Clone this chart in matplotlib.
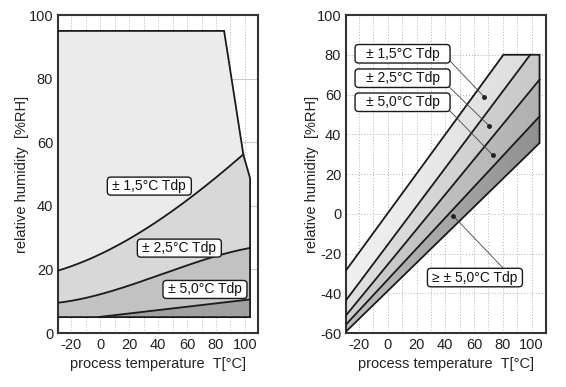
import matplotlib.pyplot as plt
from matplotlib.patches import Polygon, FancyBboxPatch
from matplotlib.transforms import IdentityTransform
import numpy as np

plt.rcParams['font.family'] = ['Liberation Sans', 'DejaVu Sans']
plt.rcParams['axes.unicode_minus'] = False

# --- DATA: left chart (accuracy vs. RH and temperature) ---
outer_t = [-30, 85.6, 98.9, 103.5, 103.5, -30]
outer_rh = [95, 95, 56, 48.7, 5, 5]

c15_t = [-30, -10, 0, 20, 40, 60, 80, 98.9]
c15_rh = [19.3, 23.0, 25.0, 29.3, 35.0, 41.8, 49.3, 56.0]

c25_t = [-30, -8, 15, 38, 61, 84, 103.5]
c25_rh = [9.4, 11.4, 14.1, 17.7, 21.4, 24.8, 26.7]

c50_t = [-1, 38, 72, 103.5]
c50_rh = [5.0, 7.2, 8.8, 10.6]
floor_rh = 5

left_labels = ['± 1,5°C Tdp', '± 2,5°C Tdp', '± 5,0°C Tdp']
left_label_t = [34, 54.7, 72.4]
left_label_rh = [46.2, 26.7, 13.7]

# --- DATA: right chart (band boundaries, start/end points) ---
line1 = [(-30, -29.5), (80.4, 80)]
line2 = [(-30, -44.5), (99, 80)]
line3 = [(-30, -52), (105.5, 67.5)]
line4 = [(-30, -56.5), (105.5, 49)]
bottom = [(-30, -60), (105.5, 35.6)]
top_right = (105.5, 80)

right_labels = ['± 1,5°C Tdp', '± 2,5°C Tdp', '± 5,0°C Tdp', '≥ ± 5,0°C Tdp']
right_label_pos = [(10.3, 80.5), (10.3, 68.2), (10.3, 56.1), (60.6, -32.1)]
right_dot_pos = [(66.9, 58.9), (70.4, 44.3), (72.9, 29.6), (45.4, -1.0)]
right_anchor = [(42.6, 77.4), (42.6, 63.9), (42.6, 52.2), (79.9, -27.1)]

fills = ['#ebebeb', '#d8d8d8', '#c2c2c2', '#a0a0a0']
edge = '#1a1a1a'

fig = plt.figure(figsize=(5.66, 3.87), dpi=100)
ax1 = fig.add_axes([0.1025, 0.1395, 0.3534, 0.8217])
ax2 = fig.add_axes([0.6113, 0.1395, 0.3534, 0.8217])

ax1.set_xlim(-29, 109)
ax1.set_ylim(0, 100)
ax2.set_xlim(-29, 110)
ax2.set_ylim(-60, 100)


def smooth(t, rh, deg=3):
    # smooth curve through the read-off points (drawing only)
    ts = np.linspace(t[0], t[-1], 200)
    return ts, np.polyval(np.polyfit(t, rh, deg), ts)


def label_box(ax, x, y, text, w, h):
    # box drawn in pixel space so it keeps a fixed size and round corners
    cx, cy = ax.transData.transform((x, y))
    p = FancyBboxPatch((cx - w / 2, cy - h / 2), w, h,
                       boxstyle='round,pad=0,rounding_size=3.5',
                       fc='white', ec=edge, lw=1.0, transform=IdentityTransform(),
                       zorder=5, clip_on=False)
    fig.patches.append(p)
    p.set_figure(fig)
    fig.text(cx / fig.bbox.width, cy / fig.bbox.height, text, ha='center', va='center',
             fontsize=10, color='#111111', zorder=6)


# --- left chart ---
s15 = smooth(c15_t, c15_rh)
s25 = smooth(c25_t, c25_rh)
s50 = smooth(c50_t, c50_rh, 2)

ax1.add_patch(Polygon(list(zip(outer_t, outer_rh)), closed=True, fc=fills[0], ec='none', zorder=2))
p15 = list(zip(*s15)) + [(103.5, 48.7), (103.5, floor_rh), (-30, floor_rh)]
ax1.add_patch(Polygon(p15, closed=True, fc=fills[1], ec='none', zorder=2))
p25 = list(zip(*s25)) + [(103.5, floor_rh), (-30, floor_rh)]
ax1.add_patch(Polygon(p25, closed=True, fc=fills[2], ec='none', zorder=2))
p50 = list(zip(*s50)) + [(103.5, floor_rh)]
ax1.add_patch(Polygon(p50, closed=True, fc=fills[3], ec='none', zorder=2))

for s in (s15, s25, s50):
    ax1.plot(s[0], s[1], color=edge, lw=1.3, zorder=3)
ax1.add_patch(Polygon(list(zip(outer_t, outer_rh)), closed=True, fc='none', ec=edge, lw=1.3, zorder=3))

for lab, tx, ty in zip(left_labels, left_label_t, left_label_rh):
    label_box(ax1, tx, ty, lab, 84, 18)

ax1.set_yticks([0, 20, 40, 60, 80, 100])

# --- right chart ---
base = [(bottom[1][0], bottom[1][1]), bottom[0]]
bands = [
    (line1 + [top_right] + base, ('#f0f0f0', '#dcdcdc')),
    (line2 + [top_right] + base, ('#e0e0e0', '#c8c8c8')),
    (line3 + base, ('#cfcfcf', '#b0b0b0')),
    (line4 + base, ('#bdbdbd', '#909090')),
]
grad = np.linspace(0, 1, 256).reshape(1, -1)
for pts, (c0, c1) in bands:
    poly = Polygon(pts, closed=True, fc='none', ec='none', zorder=2)
    ax2.add_patch(poly)
    v0 = int(c0[1:3], 16) / 255
    v1 = int(c1[1:3], 16) / 255
    im = ax2.imshow(v0 + (v1 - v0) * grad, cmap='gray', vmin=0, vmax=1, aspect='auto',
                    extent=[-30, 105.5, -60, 80], zorder=2, interpolation='bilinear')
    im.set_clip_path(poly)

ax2.add_patch(Polygon(line1 + [top_right] + base, closed=True, fc='none', ec=edge, lw=1.3, zorder=3))
for ln in [line2, line3, line4]:
    ax2.plot([ln[0][0], ln[1][0]], [ln[0][1], ln[1][1]], color=edge, lw=1.3, zorder=3)

for ap, dp in zip(right_anchor, right_dot_pos):
    ax2.plot([ap[0], dp[0]], [ap[1], dp[1]], color='#444444', lw=0.6, zorder=4)
    ax2.plot(dp[0], dp[1], 'o', color='#222222', ms=2.5, zorder=4)
for lab, lp in zip(right_labels, right_label_pos):
    label_box(ax2, lp[0], lp[1], lab, 95, 18.5)

ax2.set_xlim(-29, 110)
ax2.set_ylim(-60, 100)
ax2.set_yticks(np.arange(-60, 101, 20))

for ax in (ax1, ax2):
    ax.set_xticks([-20, 0, 20, 40, 60, 80, 100])
    ax.set_xticks(np.arange(-20, 101, 10), minor=True)
    ax.grid(which='both', axis='x', color='#b0b0b0', ls=(0, (1, 2)), lw=0.7, zorder=1)
    ax.set_axisbelow(True)
    ax.tick_params(which='both', length=0, pad=3.5, labelsize=10.5, colors='#222222')
    for sp in ax.spines.values():
        sp.set_color('#333333')
        sp.set_linewidth(1.5)
    ax.set_xlabel('process temperature  T[°C]', fontsize=10.5, color='#222222', labelpad=4)

ax1.set_ylabel('relative humidity  [%RH]', fontsize=10.5, color='#222222', labelpad=-0.5)
ax2.set_ylabel('relative humidity  [%RH]', fontsize=10.5, color='#222222', labelpad=-1.5)

ax1.grid(which='major', axis='y', color='#cccccc', ls='-', lw=0.8, zorder=1)
ax2.grid(which='major', axis='y', color='#b0b0b0', ls=(0, (1, 2)), lw=0.7, zorder=1)

fig.savefig('out.png', dpi=100)
